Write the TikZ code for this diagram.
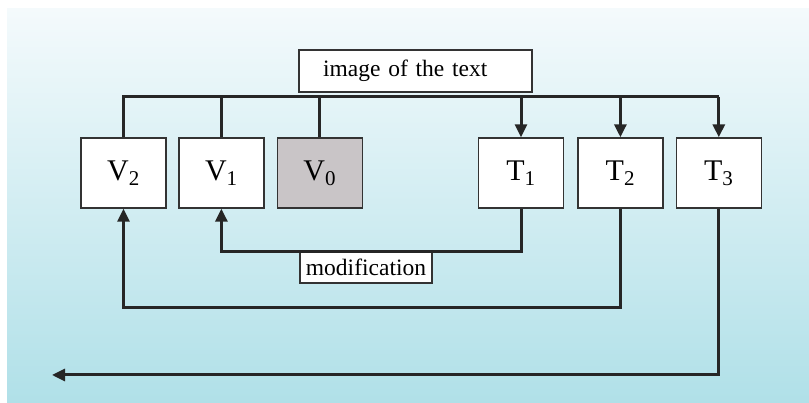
\documentclass[tikz,border=0pt]{standalone}
\usepackage{fontspec}
\setmainfont{Liberation Serif}
\usepackage{xcolor}
\usepackage{tikz}
\usetikzlibrary{arrows.meta,positioning}

\definecolor{bgtop}{HTML}{F4FAFC}
\definecolor{bgbot}{HTML}{B0E0E8}
\definecolor{vzero}{HTML}{C9C5C7}

\begin{document}
\begin{tikzpicture}[
  x=1pt, y=1pt,
  box/.style={draw=black!80, line width=1.4pt, fill=white, minimum width=85pt, minimum height=70pt,
    inner sep=0pt, font=\fontsize{30}{36}\selectfont},
  lbl/.style={draw=black!80, line width=1.4pt, fill=white, inner ysep=0pt, font=\fontsize{23.5}{28}\selectfont},
  ln/.style={line width=3pt, black!85},
  arr/.style={ln, -{Triangle[length=13pt,width=12pt]}}
]
  \useasboundingbox (0,0) rectangle (809,403);
  \shade[top color=bgtop, bottom color=bgbot] (7,0) rectangle (809,394);

  % boxes
  \node[box] (v2) at (123.5,230) {V\textsubscript{2}};
  \node[box, right=11.5pt of v2] (v1) {V\textsubscript{1}};
  \node[box, right=12pt of v1, fill=vzero] (v0) {V\textsubscript{0}};
  \node[box] (t1) at (521,230) {T\textsubscript{1}};
  \node[box, right=13pt of t1] (t2) {T\textsubscript{2}};
  \node[box, right=12pt of t2] (t3) {T\textsubscript{3}};

  % labels
  \node[lbl, minimum height=42pt, text width=185pt, inner xsep=24pt, align=left] (img) at (415.5,332) {image of the text};
  \node[lbl, minimum height=31pt, inner xsep=6pt] (mod) at (366,135.5) {modification};

  \coordinate (bus) at (0,306);
  \coordinate (back) at (0,95);
  \coordinate (out) at (52,28);

  % image of the text
  \draw[ln] (v2.north) -- (v2.north |- bus) -- (t3.north |- bus);
  \draw[ln] (v1.north) -- (v1.north |- bus);
  \draw[ln] (v0.north) -- (v0.north |- bus);
  \draw[arr] (t1.north |- bus) -- (t1.north);
  \draw[arr] (t2.north |- bus) -- (t2.north);
  \draw[arr] (t3.north |- bus) -- (t3.north);

  % modification
  \draw[arr] (t1.south) |- (v1.south |- mod.north) -- (v1.south);
  \draw[arr] (t2.south) |- (v2.south |- back) -- (v2.south);
  \draw[arr] (t3.south) |- (out);
\end{tikzpicture}
\end{document}
